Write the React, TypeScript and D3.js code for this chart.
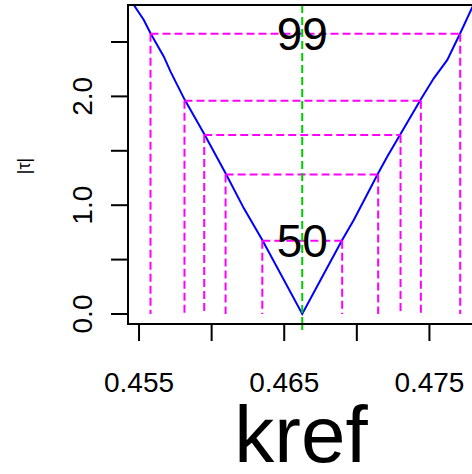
import React from 'react';
import * as d3 from 'd3';

// profile |tau| vs kref
const krefValues = [
  0.45464, 0.45533, 0.45579, 0.45671, 0.45717, 0.45813, 0.45949, 0.46096,
  0.46222, 0.46349, 0.46624, 0.4675, 0.46899, 0.46979, 0.47147, 0.47209,
  0.47301, 0.47441, 0.4753, 0.47623, 0.47712, 0.47797,
];
const tauValues = [
  2.84, 2.702, 2.58, 2.365, 2.227, 1.973, 1.654, 1.293,
  0.971, 0.68, 0, 0.3125, 0.68, 0.864, 1.293, 1.446,
  1.654, 1.973, 2.166, 2.335, 2.58, 2.824,
];

const mle = 0.46624;
const levelNames = ['50', '80', '90', '95', '99'];
const levelTau = [0.674, 1.282, 1.645, 1.96, 2.576];
const lowerBounds = [0.46349, 0.46096, 0.45949, 0.45813, 0.45579];
const upperBounds = [0.46899, 0.47147, 0.47301, 0.47441, 0.47712];
const shownLevels = ['50', '99'];

const xTicks = [0.455, 0.46, 0.465, 0.47, 0.475];
const xTickLabels = ['0.455', '', '0.465', '', '0.475'];
const yTicks = [0, 0.5, 1, 1.5, 2, 2.5];
const yTickLabels = ['0.0', '', '1.0', '', '2.0', ''];

const W = 472;
const H = 474;
const left = 128, right = 474, top = 5, bottom = 324;

export default function App() {
  const x = d3.scaleLinear().domain([0.45424, 0.47807]).range([left, right]);
  const y = d3.scaleLinear().domain([-0.092, 2.84]).range([bottom, top]);

  const line = d3.line<number>()
    .x((_, i) => x(krefValues[i]))
    .y((d) => y(d));

  const font = 'Liberation Sans, Arial, sans-serif';
  const dash = '8,4';

  return (
    <svg width={W} height={H} style={{ position: 'absolute', left: 0, top: 0, background: '#fff' }}>
      <defs>
        <clipPath id="plot">
          <rect x={left} y={top} width={right - left} height={bottom - top} />
        </clipPath>
      </defs>

      <g clipPath="url(#plot)">
        <path d={line(tauValues) || ''} fill="none" stroke="#0000ff" strokeWidth={2} />

        {levelTau.map((t, i) => (
          <g key={levelNames[i]} stroke="#ff00ff" strokeWidth={2} strokeDasharray={dash}>
            <line x1={x(lowerBounds[i])} x2={x(upperBounds[i])} y1={y(t)} y2={y(t)} />
            <line x1={x(lowerBounds[i])} x2={x(lowerBounds[i])} y1={y(t)} y2={y(0)} />
            <line x1={x(upperBounds[i])} x2={x(upperBounds[i])} y1={y(t)} y2={y(0)} />
          </g>
        ))}

        <line x1={x(mle)} x2={x(mle)} y1={top} y2={bottom}
          stroke="#00cd00" strokeWidth={2} strokeDasharray={dash} />
      </g>
      {/* green line runs past the box bottom a bit */}
      <line x1={x(mle)} x2={x(mle)} y1={bottom} y2={bottom + 6}
        stroke="#00cd00" strokeWidth={2} strokeDasharray={dash} />

      {levelTau.map((t, i) =>
        shownLevels.includes(levelNames[i]) ? (
          <text key={'l' + i} x={x(mle)} y={y(t)} textAnchor="middle" dominantBaseline="central"
            fontFamily={font} fontSize={46} fill="#000">
            {levelNames[i]}
          </text>
        ) : null
      )}

      <rect x={left} y={top} width={right - left} height={bottom - top}
        fill="none" stroke="#000" strokeWidth={2} />

      {/* x axis */}
      <g stroke="#000" strokeWidth={2}>
        {xTicks.map((t) => (
          <line key={t} x1={x(t)} x2={x(t)} y1={bottom} y2={bottom + 17} />
        ))}
      </g>
      {xTicks.map((t, i) => xTickLabels[i] ? (
        <text key={'xl' + t} x={x(t)} y={392} textAnchor="middle"
          fontFamily={font} fontSize={28} fill="#000">
          {xTickLabels[i]}
        </text>
      ) : null)}

      {/* y axis */}
      <g stroke="#000" strokeWidth={2}>
        {yTicks.map((t) => (
          <line key={t} x1={left - 17} x2={left} y1={y(t)} y2={y(t)} />
        ))}
      </g>
      {yTicks.map((t, i) => yTickLabels[i] ? (
        <text key={'yl' + t} transform={`translate(92,${y(t)}) rotate(-90)`} textAnchor="middle"
          fontFamily={font} fontSize={28} fill="#000">
          {yTickLabels[i]}
        </text>
      ) : null)}

      <text transform="translate(30,166) rotate(-90)" textAnchor="middle"
        fontFamily={font} fontSize={18} fill="#000">
        |τ|
      </text>

      <text x={(left + right) / 2} y={462} textAnchor="middle"
        fontFamily={font} fontSize={80} fill="#000">
        kref
      </text>
    </svg>
  );
}
